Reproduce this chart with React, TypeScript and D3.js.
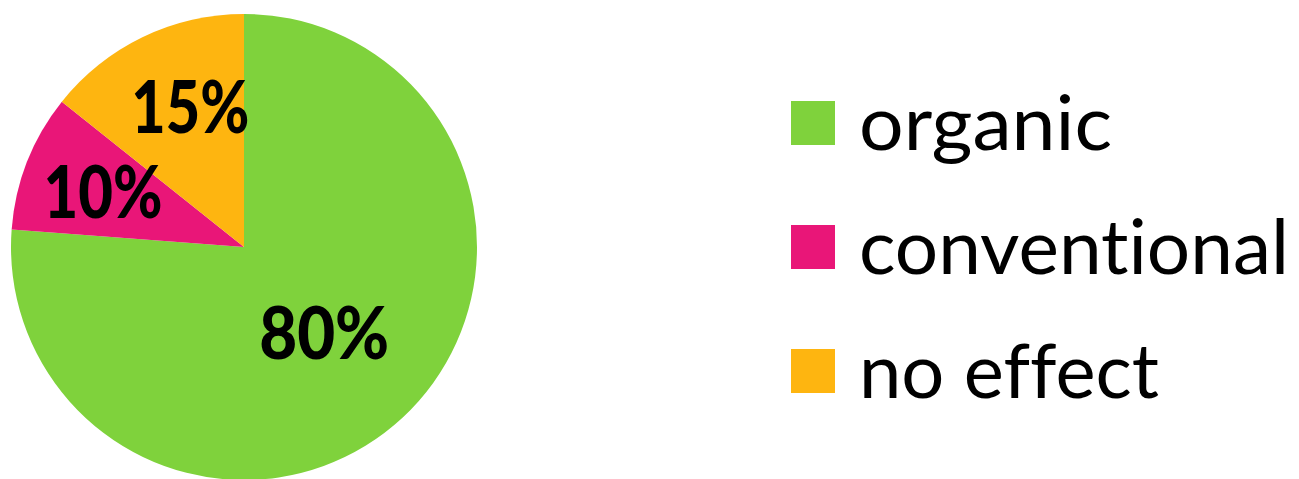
import React from "react";
import * as d3 from "d3";

const categories = ["organic", "conventional", "no effect"];
const values = [80, 10, 15];
const labels = ["80%", "10%", "15%"];
const colors = ["#7FD23C", "#E91678", "#FEB510"];

const W = 1299;
const H = 479;
const cx = 244;
const cy = 247;
const R = 233;
const labelRadiusFrac = [0.5, 0.65, 0.67];
const labelDx = [1, 0, 14];
const labelWidths = [130, 119, 118];
const legendWidths = [253, 430, 300];

export default function App() {
  const pie = d3.pie<number>().sort(null).value((d) => d)(values);
  const arc = d3.arc<d3.PieArcDatum<number>>().innerRadius(0).outerRadius(R);
  const legendY = d3.scalePoint<string>().domain(categories).range([123, 371]);

  return (
    <svg
      width={W}
      height={H}
      style={{ position: "absolute", left: 0, top: 0, background: "#fff" }}
    >
      <g transform={`translate(${cx},${cy})`}>
        {pie.map((p, i) => (
          <path key={i} d={arc(p) || ""} fill={colors[i]} />
        ))}
        {pie.map((p, i) => {
          const r = R * labelRadiusFrac[i];
          const la = d3.arc<d3.PieArcDatum<number>>().innerRadius(r).outerRadius(r);
          const [x, y] = la.centroid(p);
          return (
            <text
              key={i}
              x={x + labelDx[i]}
              y={y}
              dy="0.36em"
              textAnchor="middle"
              fontFamily="Lato, 'Open Sans', sans-serif"
              fontWeight={900}
              fontSize={73}
              fill="#000"
              textLength={labelWidths[i]}
              lengthAdjust="spacingAndGlyphs"
            >
              {labels[i]}
            </text>
          );
        })}
      </g>
      <g>
        {categories.map((c, i) => {
          const y = legendY(c) as number;
          return (
            <g key={c}>
              <rect x={791} y={y - 22} width={44} height={44} fill={colors[i]} />
              <text
                x={859}
                y={y + 27}
                fontFamily="Lato, 'Open Sans', sans-serif"
                fontSize={76}
                fill="#000"
                style={{ fontVariantLigatures: "none" }}
                textLength={legendWidths[i]}
                lengthAdjust="spacingAndGlyphs"
              >
                {c}
              </text>
            </g>
          );
        })}
      </g>
    </svg>
  );
}
